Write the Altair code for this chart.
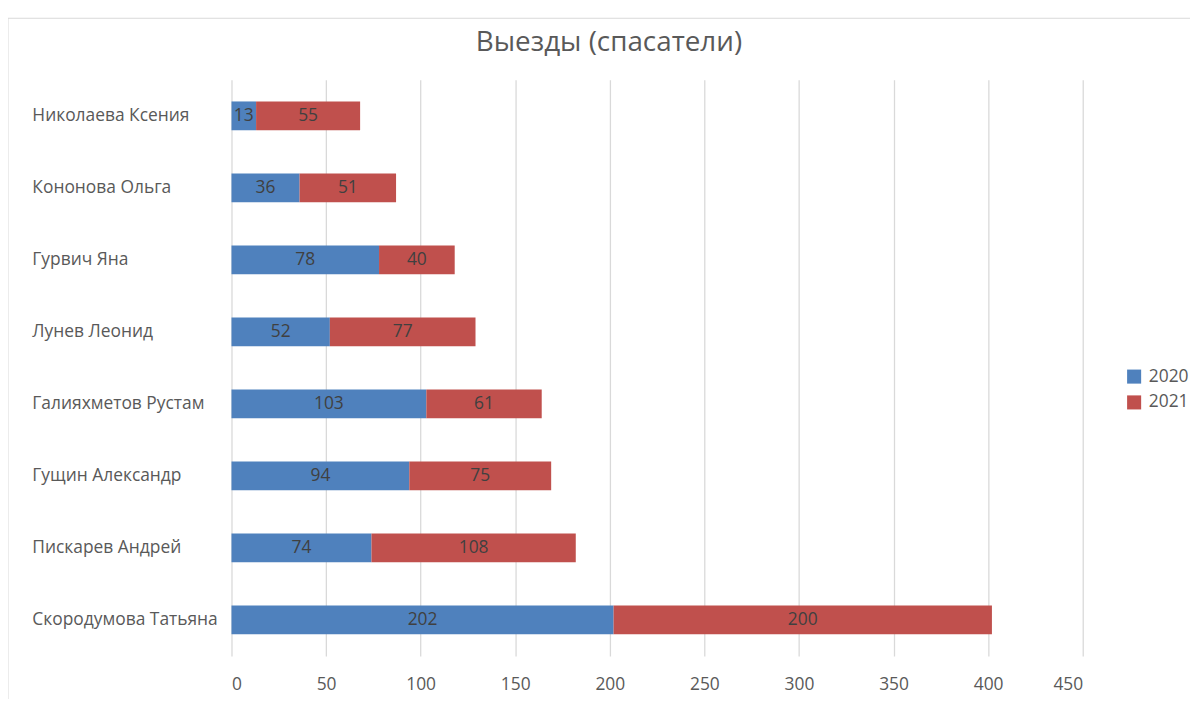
import altair as alt
import pandas as pd

names = ["Николаева Ксения", "Кононова Ольга", "Гурвич Яна", "Лунев Леонид",
         "Галияхметов Рустам", "Гущин Александр", "Пискарев Андрей", "Скородумова Татьяна"]
v2020 = [13, 36, 78, 52, 103, 94, 74, 202]
v2021 = [55, 51, 40, 77, 61, 75, 108, 200]
years = ["2020", "2021"]
colors = ["#4F81BD", "#C0504D"]
title_text = "Выезды (спасатели)"

rows = []
for n, a, b in zip(names, v2020, v2021):
    rows.append({"name": n, "year": "2020", "value": a, "ord": 0})
    rows.append({"name": n, "year": "2021", "value": b, "ord": 1})
df = pd.DataFrame(rows)

FONT = "Open Sans"
FS = 17.5
W, H = 857, 580

base = alt.Chart(df).encode(
    y=alt.Y("name:N", sort=names, title=None,
            scale=alt.Scale(paddingInner=0.6, paddingOuter=0.3),
            axis=alt.Axis(labelAlign="left", labelPadding=201, ticks=False, domain=False,
                          labelLimit=300,
                          labelFont=FONT, labelFontSize=FS, labelColor="#595959", grid=False)),
)

bars = base.mark_bar().encode(
    x=alt.X("value:Q", stack="zero", title=None,
            scale=alt.Scale(domain=[0, 450], nice=False),
            axis=alt.Axis(values=list(range(0, 451, 50)), ticks=False, domain=False,
                          labelFont=FONT, labelFontSize=FS, labelColor="#595959",
                          labelPadding=20, gridColor="#d9d9d9", gridWidth=1.3)),
    color=alt.Color("year:N", scale=alt.Scale(domain=years, range=colors),
                    legend=alt.Legend(title=None, orient="none", legendX=900, legendY=290,
                                      symbolType="square", symbolSize=200, symbolStrokeWidth=0,
                                      labelFont=FONT, labelFontSize=FS, labelColor="#595959",
                                      labelOffset=6, rowPadding=7)),
    order=alt.Order("ord:Q"),
)

labels = base.mark_text(font=FONT, fontSize=FS, color="#404040").encode(
    x=alt.X("mid:Q"),
    text=alt.Text("value:Q"),
).transform_stack(
    stack="value", groupby=["name"], as_=["lo", "hi"], sort=[alt.SortField("ord")]
).transform_calculate(mid="(datum.lo + datum.hi) / 2")

one = pd.DataFrame({"t": [title_text]})

frame = alt.Chart(one).mark_rect(
    fill=None, stroke="#d9d9d9", strokeWidth=1
).encode(x=alt.value(-225), x2=alt.value(970), y=alt.value(-62), y2=alt.value(640))

title = alt.Chart(one).mark_text(
    font=FONT, fontSize=28, color="#595959", align="center", baseline="alphabetic"
).encode(x=alt.value(380), y=alt.value(-29), text="t:N")

chart = alt.layer(frame, bars, labels, title).properties(
    width=W, height=H,
    autosize=alt.AutoSizeParams(type="none"),
    padding={"left": 225, "top": 70, "right": 108, "bottom": 41},
).configure_view(stroke=None)

chart.save("out.html", embed_options={"renderer": "svg", "actions": False})
